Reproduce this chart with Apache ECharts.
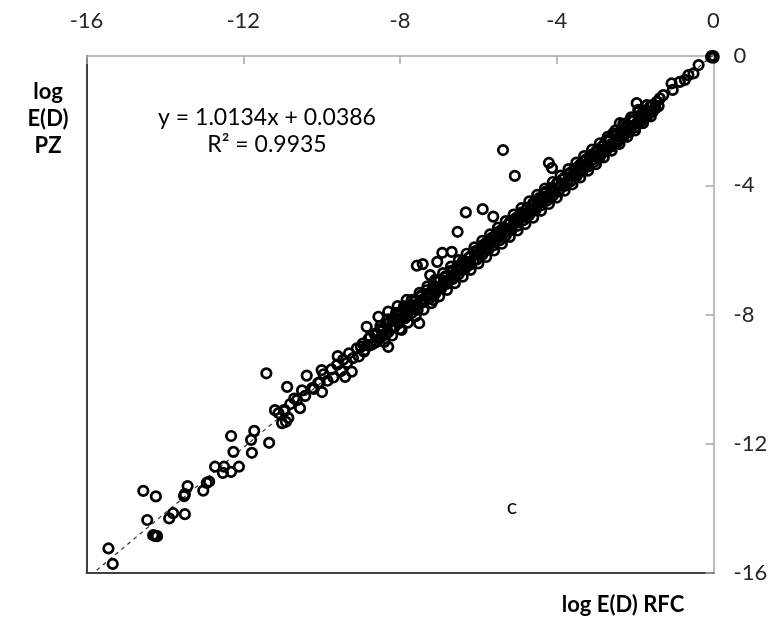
<!DOCTYPE html>
<html><head><meta charset="utf-8">
<script src="https://cdn.jsdelivr.net/npm/echarts@6/dist/echarts.min.js"></script>
<style>html,body{margin:0;padding:0;background:#fff}#c{width:778px;height:621px}</style>
</head><body><div id="c"></div>
<script>
// log E(D) RFC (x) / log E(D) PZ (y)
var tailX = [-15.44,-15.33,-14.55,-14.23,-14.45,-14.3,-14.2,-14.25,-13.89,-13.79,-13.49,-13.51,-13.49,-13.42,-13.02,-12.93,-12.87,-12.72,-12.49,-12.52,-12.31,-12.11,-12.31,-12.25,-11.78,-11.8,-11.72,-11.34,-10.91,-11.41,-11.19,-11.01,-11.1,-10.95,-10.85];
var tailY = [-15.24,-15.72,-13.46,-13.63,-14.36,-14.83,-14.86,-14.85,-14.31,-14.15,-14.18,-13.62,-13.56,-13.31,-13.45,-13.21,-13.17,-12.71,-12.71,-12.9,-12.87,-12.71,-11.76,-12.25,-12.28,-11.88,-11.6,-11.97,-11.32,-9.82,-10.96,-11.36,-11.05,-10.95,-11.2];

var midX = [-10.88,-10.95,-10.8,-10.63,-10.55,-10.42,-10.24,-10.09,-9.99,-10.7,-10.5,-10.38,-10.0,-10.2,-10.05,-9.95,-9.85,-9.75,-9.7,-9.6,-9.59,-9.5,-9.45,-9.4,-9.35,-9.3,-9.23,-9.2,-9.1,-9.05,-8.95,-8.9,-8.85,-8.8,-8.75,-8.65,-8.6,-8.55,-8.5,-8.45,-8.35,-8.3,-8.3,-8.3,-8.2,-8.15,-8.06,-8.05,-8.0,-7.96,-7.83,-7.51,-7.15];
var midY = [-10.24,-10.99,-10.77,-10.65,-10.9,-10.52,-10.28,-10.12,-10.4,-10.6,-10.35,-9.89,-9.72,-10.3,-10.1,-9.85,-10.05,-9.7,-9.95,-9.55,-9.29,-9.75,-9.4,-9.93,-9.5,-9.2,-9.77,-9.35,-9.05,-9.3,-8.9,-9.1,-8.38,-8.75,-8.95,-8.6,-8.85,-8.07,-8.45,-8.65,-8.3,-8.55,-7.91,-9.0,-8.15,-8.4,-7.74,-8.0,-8.2,-8.48,-7.55,-8.27,-7.55];

var bandX = [-7.95,-7.9,-7.82,-7.75,-7.7,-7.6,-7.55,-7.45,-7.4,-7.3,-7.25,-7.15,-7.1,-7.0,-6.95,-6.85,-6.8,-6.7,-6.65,-6.55,-6.5,-6.4,-6.35,-6.25,-6.2,-6.1,-6.05,-5.95,-5.9,-5.8,-5.75,-5.65,-5.6,-5.5,-5.45,-5.35,-5.3,-5.2,-5.15,-5.05,-5.0,-4.9,-4.85,-4.75,-4.7,-4.6,-4.55,-4.45,-4.4,-4.3,-4.25,-4.15,-4.1,
 -7.88,-7.65,-7.48,-7.28,-7.05,-6.88,-6.68,-6.45,-6.28,-6.08,-5.88,-5.68,-5.48,-5.28,-5.08,-4.88,-4.68,-4.48,-4.28,-4.08];
var bandY = [-8.1,-7.85,-8.05,-7.7,-7.95,-7.55,-7.85,-7.4,-7.62,-7.35,-7.5,-7.1,-7.35,-6.95,-7.2,-6.85,-7.05,-6.65,-6.9,-6.55,-6.75,-6.35,-6.6,-6.25,-6.45,-6.05,-6.3,-5.95,-6.15,-5.78,-6.0,-5.62,-5.85,-5.45,-5.7,-5.32,-5.55,-5.15,-5.38,-5.02,-5.25,-4.85,-5.08,-4.7,-4.92,-4.55,-4.78,-4.4,-4.62,-4.25,-4.48,-4.1,-4.32,
 -7.98,-7.72,-7.6,-7.4,-7.18,-6.95,-6.8,-6.5,-6.38,-6.15,-5.92,-5.75,-5.58,-5.35,-5.12,-4.98,-4.8,-4.52,-4.35,-4.2];

var band2X = [-9.0,-8.92,-8.84,-8.76,-8.68,-8.6,-8.52,-8.44,-8.36,-8.28,-8.2,-8.12,-8.04,-7.96,-7.88,-7.8,-7.72,-7.64,-7.56,-7.48,-7.4,-7.32,-7.24,-7.16,-7.08,-7.0,-6.92,-6.84,-6.76,-6.68,-6.6,-6.52,-6.44,-6.36,-6.28,-6.2,-6.12,-6.04,-5.96,-5.88,-5.8,-5.72,-5.64,-5.56,-5.48,-5.4,-5.32,-5.24,-5.16,-5.08,-5.0,-4.92,-4.84,-4.76,-4.68,-4.6,-4.52,-4.44,-4.36,-4.28,-4.2,-4.12,-4.04,-3.96,-3.88,-3.8,-3.72,-3.64,-3.56,-3.48,-3.4,-3.32,-3.24,-3.16,-3.08,-3.0,-2.92,-2.84,-2.76,-2.68,-2.6,-2.52,-2.44,-2.36,-2.28,-2.2,-2.12,-2.04,-1.96,-1.88,-1.8,-1.72,-1.64,-1.56,-1.48];
var band2Y = [-9.0,-9.15,-8.95,-8.7,-8.9,-8.62,-8.75,-8.5,-8.62,-8.25,-8.42,-8.12,-8.28,-7.95,-8.12,-7.82,-7.85,-7.6,-7.72,-7.45,-7.52,-7.25,-7.4,-7.2,-7.26,-6.98,-7.1,-6.82,-6.95,-6.7,-6.8,-6.5,-6.62,-6.4,-6.5,-6.2,-6.32,-6.02,-6.12,-5.85,-5.95,-5.7,-5.78,-5.55,-5.62,-5.38,-5.46,-5.22,-5.3,-5.06,-5.14,-4.9,-4.98,-4.75,-4.85,-4.62,-4.66,-4.44,-4.5,-4.2,-4.38,-4.08,-4.18,-3.92,-4.0,-3.76,-3.85,-3.6,-3.7,-3.45,-3.52,-3.28,-3.38,-3.12,-3.2,-2.96,-3.06,-2.8,-2.9,-2.64,-2.72,-2.48,-2.58,-2.32,-2.42,-2.16,-2.26,-2.0,-2.08,-1.86,-1.92,-1.68,-1.76,-1.52,-1.62];

var band3X = [-8.5,-8.4,-8.3,-8.2,-8.1,-8.0,-7.9,-7.8,-7.7,-7.6,-7.5,-7.4,-7.3,-7.2,-7.1,-7.0,-6.9,-6.8,-6.7,-6.6,-6.5,-6.4,-6.3,-6.2,-6.1,-6.0,-5.9,-5.8,-5.7,-5.6,-5.5,-5.4,-5.3,-5.2,-5.1,-5.0,-4.9,-4.8,-4.7,-4.6,-4.5,-4.4,-4.3,-4.2,-4.1,-4.0,-3.9,-3.8,-3.7,-3.6,-3.5,-3.4,-3.3,-3.2,-3.1,-3.0,-2.9,-2.8,-2.7,-2.6,-2.5,-2.4,-2.3,-2.2,-2.1,-2.0,-1.9,-1.8,-1.7,-1.6];
var band3Y = [-8.35,-8.85,-8.15,-8.65,-7.95,-8.45,-7.75,-8.25,-7.55,-8.05,-7.33,-7.85,-7.13,-7.65,-6.93,-7.44,-6.72,-7.24,-6.52,-7.03,-6.32,-6.83,-6.12,-6.62,-5.92,-6.42,-5.72,-6.22,-5.52,-6.02,-5.31,-5.81,-5.11,-5.6,-4.91,-5.4,-4.71,-5.2,-4.5,-5.0,-4.3,-4.79,-4.1,-4.58,-3.9,-4.38,-3.7,-4.17,-3.5,-3.97,-3.3,-3.76,-3.1,-3.55,-2.9,-3.35,-2.7,-3.14,-2.5,-2.93,-2.3,-2.72,-2.1,-2.5,-1.9,-2.3,-1.7,-2.08,-1.52,-1.87];

var outX = [-6.32,-5.89,-5.62,-6.53,-6.92,-6.68,-7.57,-7.42,-7.05,-7.23,-5.37,-5.07,-4.2,-4.12];
var outY = [-4.84,-4.74,-4.97,-5.44,-6.09,-6.06,-6.49,-6.44,-6.37,-6.78,-2.91,-3.71,-3.31,-3.47];

var topX = [-4.0,-3.95,-3.85,-3.8,-3.7,-3.65,-3.55,-3.5,-3.4,-3.35,-3.25,-3.2,-3.1,-3.05,-2.95,-2.9,-2.8,-2.75,-2.65,-2.6,-2.5,-2.45,-2.35,-2.3,-2.2,-2.15,-2.05,-2.0,-1.9,-1.85,-1.75,-1.7,-1.6,-1.55,-1.45,-1.4,
 -3.9,-3.6,-3.3,-3.0,-2.7,-2.4,-2.1,-1.8,-1.5,
 -0.38,-0.51,-0.64,-0.73,-0.86,-1.07,-1.04,-1.28,-1.37,-1.62,-1.71,-1.96,-1.92,-1.79,-2.13,-2.39,-2.3,-2.56,-2.73,-2.85,
 0,-0.03,-0.05,-0.02,0,-0.06];
var topY = [-3.95,-4.2,-3.82,-4.02,-3.65,-3.88,-3.5,-3.72,-3.36,-3.58,-3.2,-3.42,-3.05,-3.28,-2.9,-3.12,-2.75,-2.96,-2.6,-2.8,-2.45,-2.66,-2.3,-2.5,-2.15,-2.36,-2.0,-2.2,-1.85,-2.02,-1.7,-1.88,-1.55,-1.72,-1.42,-1.55,
 -4.0,-3.7,-3.4,-3.1,-2.82,-2.5,-2.18,-1.9,-1.6,
 -0.28,-0.54,-0.59,-0.74,-0.8,-0.85,-1.05,-1.21,-1.31,-1.57,-1.83,-1.46,-1.67,-1.72,-1.98,-2.08,-2.19,-2.39,-2.6,-2.91,
 0,-0.02,0.0,-0.03,-0.05,-0.04];

var xTicks = [-16,-12,-8,-4,0];
var yTicks = [-16,-12,-8,-4,0];
var slope = 1.0134, intercept = 0.0386;

var allX = [].concat(tailX, midX, bandX, band2X, band3X, outX, topX);
var allY = [].concat(tailY, midY, bandY, band2Y, band3Y, outY, topY);
var pts = allX.map(function(x,i){return [x, allY[i]];});
var minX = Math.min.apply(null, allX) - 0.3, maxX = Math.max.apply(null, allX);
var trend = [[minX, slope*minX+intercept],[maxX, slope*maxX+intercept]];

var FONT = 'Lato, "Open Sans", sans-serif';
var chart = echarts.init(document.getElementById('c'), null, {renderer:'canvas'});
chart.setOption({
  animation:false,
  grid:{left:86.5, top:56, width:627, height:517, containLabel:false},
  xAxis:[{type:'value', position:'top', min:xTicks[0], max:xTicks[xTicks.length-1], interval:4,
      axisLine:{show:true, onZero:false, lineStyle:{color:'#a6a6a6', width:1.5}},
      axisTick:{show:true, inside:true, length:8, lineStyle:{color:'#a6a6a6', width:1.5}},
      axisLabel:{fontSize:22, color:'#262626', margin:24, fontFamily:FONT},
      splitLine:{show:false}},
    {type:'value', position:'bottom', min:-16, max:0,
      axisLine:{show:true, onZero:false, lineStyle:{color:'#404040', width:2}},
      axisTick:{show:false}, axisLabel:{show:false}, splitLine:{show:false}}],
  yAxis:[{type:'value', position:'right', min:yTicks[0], max:yTicks[yTicks.length-1], interval:4,
      axisLine:{show:true, onZero:false, lineStyle:{color:'#a6a6a6', width:1.5}},
      axisTick:{show:true, inside:true, length:8, lineStyle:{color:'#a6a6a6', width:1.5}},
      axisLabel:{fontSize:22, color:'#262626', margin:20, fontFamily:FONT},
      splitLine:{show:false}},
    {type:'value', position:'left', min:-16, max:0,
      axisLine:{show:true, onZero:false, lineStyle:{color:'#404040', width:2}},
      axisTick:{show:false}, axisLabel:{show:false}, splitLine:{show:false}}],
  series:[
    {type:'line', data:trend, xAxisIndex:0, yAxisIndex:0, symbol:'none', silent:true,
      lineStyle:{color:'#333', width:1.2, type:[4,4]}, z:1},
    {type:'scatter', data:pts, xAxisIndex:0, yAxisIndex:0, symbol:'circle', symbolSize:9.5,
      itemStyle:{color:'rgba(0,0,0,0)', borderColor:'#000', borderWidth:2.7, opacity:1}, z:2}
  ],
  graphic:[
    {type:'text', style:{text:'log\nE(D)\nPZ', x:48, y:119, font:'bold 22px '+FONT, fill:'#000', textAlign:'center', textVerticalAlign:'middle', lineHeight:27}},
    {type:'text', style:{text:'log E(D) RFC', x:623, y:605, font:'bold 22px '+FONT, fill:'#000', textAlign:'center', textVerticalAlign:'middle'}},
    {type:'text', style:{text:'y = 1.0134x + 0.0386', x:267, y:118, font:'23px '+FONT, fill:'#000', textAlign:'center', textVerticalAlign:'middle'}},
    {type:'text', style:{text:'R² = 0.9935', x:267, y:145, font:'23px '+FONT, fill:'#000', textAlign:'center', textVerticalAlign:'middle'}},
    {type:'text', style:{text:'c', x:512, y:507, font:'22px '+FONT, fill:'#000', textAlign:'center', textVerticalAlign:'middle'}}
  ]
});
</script></body></html>
